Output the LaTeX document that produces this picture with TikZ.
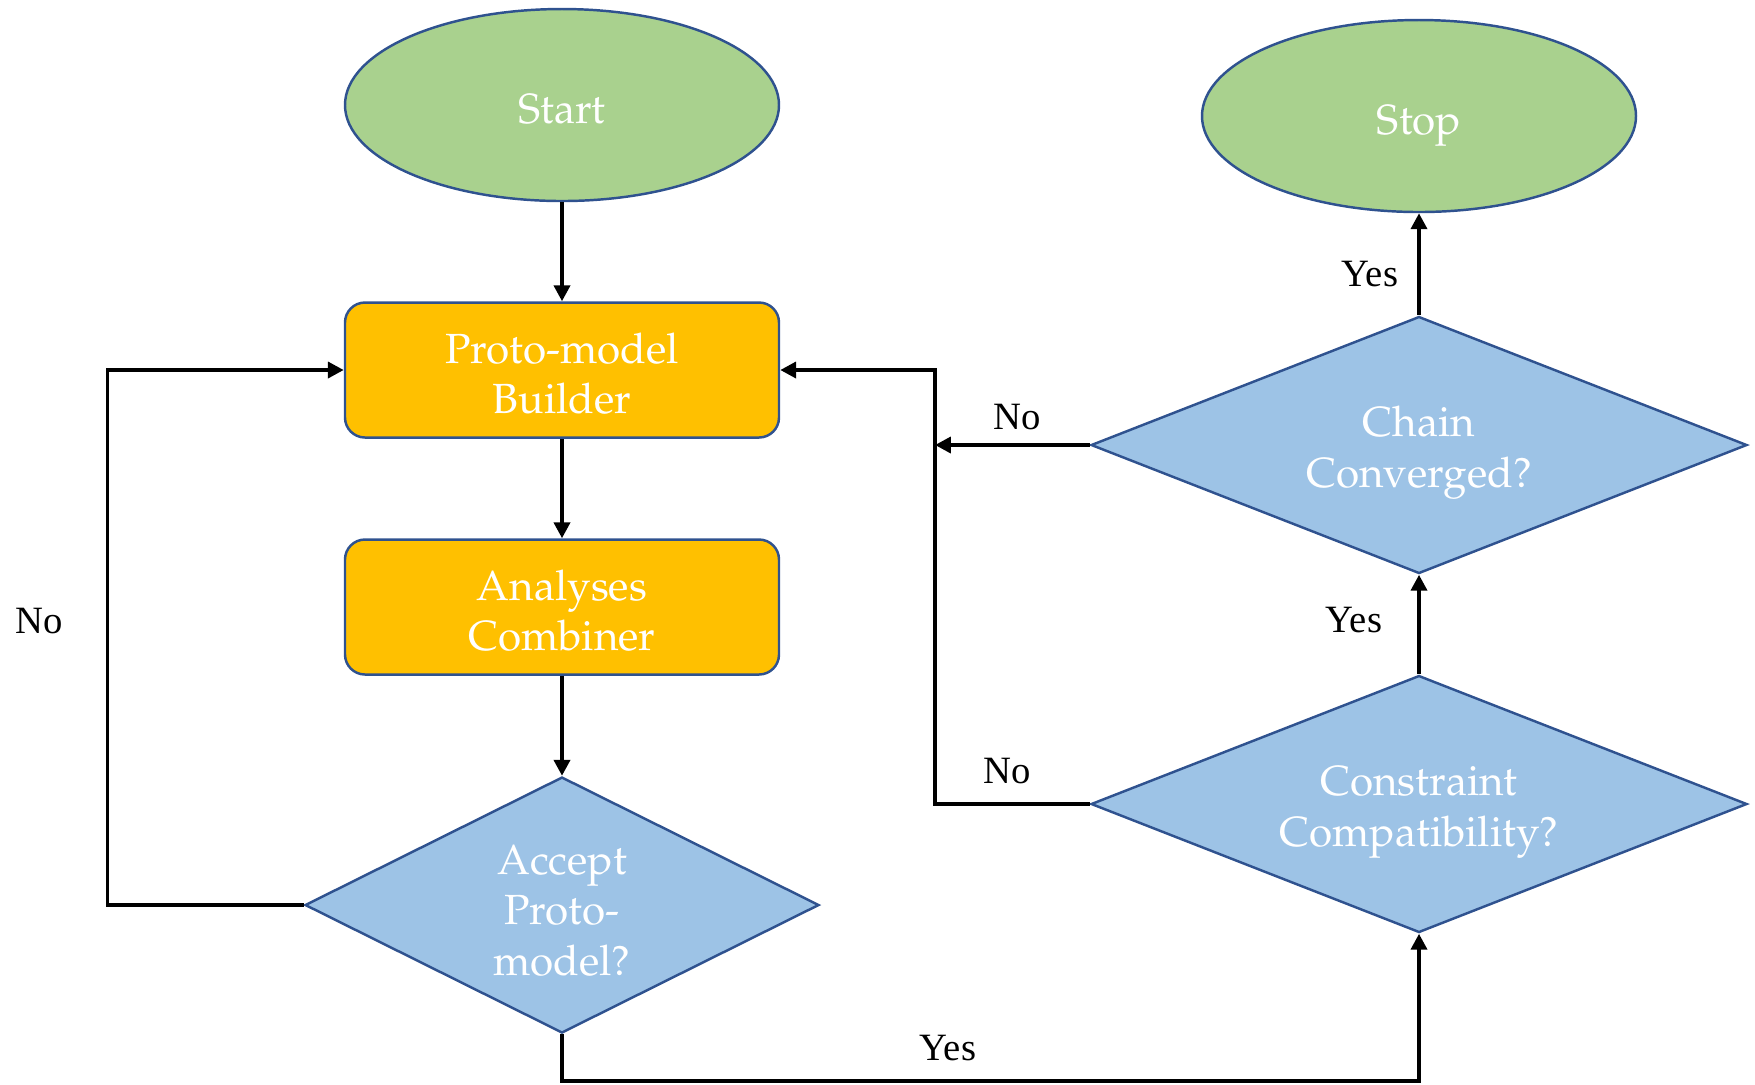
\documentclass[tikz,border=0pt]{standalone}
\usepackage[T1]{fontenc}
\usepackage{fontspec}
\setmainfont{Liberation Serif}
\usepackage{tikz}
\usetikzlibrary{shapes.geometric,arrows.meta}

\definecolor{ovalgreen}{HTML}{A9D18E}
\definecolor{boxorange}{HTML}{FFC000}
\definecolor{decblue}{HTML}{9DC3E6}
\definecolor{bordercol}{HTML}{2F528F}
\newcommand{\boxfont}{\fontencoding{T1}\fontfamily{ppl}\fontsize{12}{14.4}\selectfont}
\newcommand{\lift}[1]{\rule{0pt}{#1}}	% taller first line, pushes text down

\begin{document}
\begin{tikzpicture}[
	oval/.style={ellipse, draw=bordercol, line width=0.7pt, fill=ovalgreen, text=white, minimum width=4.34cm, minimum height=1.92cm, text depth=0pt, font=\boxfont},
	box/.style={rectangle, rounded corners=0.2cm, draw=bordercol, line width=0.7pt, fill=boxorange, text=white, minimum width=4.34cm, minimum height=1.35cm, align=center, font=\boxfont},
	decision/.style={diamond, draw=bordercol, line width=0.7pt, fill=decblue, text=white, inner sep=0pt, align=center, font=\boxfont},
	conn/.style={line width=1.1pt, -{Triangle[length=4.5pt,width=4.5pt]}},
	lbl/.style={font=\fontsize{11}{13}\selectfont}
]
	\useasboundingbox (0,0) rectangle (17.55,-10.84);

	%nodes
	\node[oval] (start) at (5.62,-1.05) {\lift{10.8pt}Start};
	\node[oval] (stop)  at (14.19,-1.16) {\lift{10.8pt}Stop};
	\node[box] (builder)  at (5.62,-3.70) {\lift{10.8pt}Proto-model\\Builder};
	\node[box] (combiner) at (5.62,-6.07) {\lift{10.8pt}Analyses\\Combiner};
	\node[decision, aspect=2, minimum width=5.14cm, minimum height=2.56cm] (accept) at (5.62,-9.05) {\lift{11.4pt}Accept\\Proto-\\model?};
	\node[decision, aspect=2.55, minimum width=6.56cm, minimum height=2.57cm] (chain) at (14.19,-4.45) {\lift{13.2pt}Chain\\Converged?};
	\node[decision, aspect=2.55, minimum width=6.56cm, minimum height=2.57cm] (constr) at (14.19,-8.04) {\lift{13.2pt}Constraint\\Compatibility?};

	%corners of the loops
	\coordinate (lft) at (1.075,-3.70);
	\coordinate (rgt) at (9.35,-3.70);
	\coordinate (bot) at (5.62,-10.81);

	%arrows
	\draw[conn] (start) -- (builder);
	\draw[conn] (builder) -- (combiner);
	\draw[conn] (combiner) -- (accept);
	\draw[conn] (accept.west) -| (lft) -- (builder.west);
	\draw[conn] (accept.south) -- (bot) -| (constr.south);
	\draw[conn] (constr.north) -- (chain.south);
	\draw[conn] (constr.west) -| (rgt) -- (builder.east);
	\draw[conn] (chain.west) -- (chain.west -| rgt);
	\draw[conn] (chain.north) -- (stop.south);

	%labels
	\node[lbl] (yesstop)  at (13.70,-2.74) {Yes};
	\node[lbl] (yeschain) at (13.54,-6.20) {Yes};
	\node[lbl] (yesbot)   at (9.48,-10.48) {Yes};
	\node[lbl] (nochain)  at (10.17,-4.17) {No};
	\node[lbl] (noconstr) at (10.07,-7.71) {No};
	\node[lbl] (noleft)   at (0.39,-6.21)  {No};
\end{tikzpicture}
\end{document}
